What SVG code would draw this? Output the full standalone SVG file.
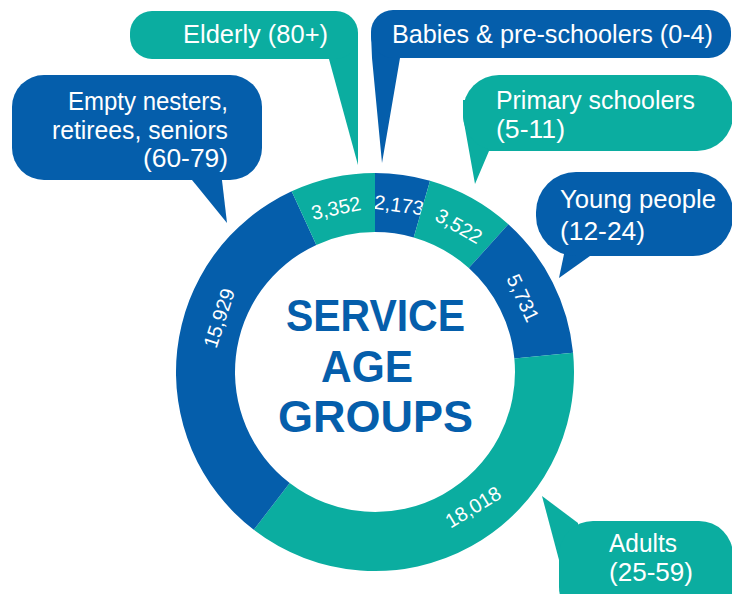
<svg xmlns="http://www.w3.org/2000/svg" width="732" height="594" viewBox="0 0 732 594">
<style>
.blue{fill:#055EAB}
.teal{fill:#0BADA0}
.lbl{font-family:"Liberation Sans",Arial,sans-serif;font-size:26px;fill:#ffffff}
.val{font-family:"Liberation Sans",Arial,sans-serif;font-size:20px;fill:#ffffff;text-anchor:middle}
.title{font-family:"Liberation Sans",Arial,sans-serif;font-size:44px;font-weight:bold;fill:#055EAB;text-anchor:middle}
</style>
<rect width="732" height="594" fill="#ffffff"/>
<g id="donut">
  <g id="seg-babies">
    <path class="blue" d="M375,173 A199,199 0 0 1 430.04,180.76 L413.72,237.46 A140,140 0 0 0 375,232 Z"/>
    <text class="val" transform="translate(399,205) rotate(8)" y="7">2,173</text>
  </g>
  <g id="seg-primary">
    <path class="teal" d="M430.04,180.76 A199,199 0 0 1 508.35,224.28 L468.81,268.08 A140,140 0 0 0 413.72,237.46 Z"/>
    <text class="val" transform="translate(459,226) rotate(30)" y="7">3,522</text>
  </g>
  <g id="seg-young">
    <path class="blue" d="M508.35,224.28 A199,199 0 0 1 573.06,352.65 L514.34,358.39 A140,140 0 0 0 468.81,268.08 Z"/>
    <text class="val" transform="translate(523,298) rotate(65)" y="7">5,731</text>
  </g>
  <g id="seg-adults">
    <path class="teal" d="M573.06,352.65 A199,199 0 0 1 253.75,529.81 L289.70,483.02 A140,140 0 0 0 514.34,358.39 Z"/>
    <text class="val" transform="translate(473,507) rotate(-31)" y="7">18,018</text>
  </g>
  <g id="seg-empty">
    <path class="blue" d="M253.75,529.81 A199,199 0 0 1 291.64,191.31 L316.35,244.88 A140,140 0 0 0 289.70,483.02 Z"/>
    <text class="val" transform="translate(219,318) rotate(-72)" y="7">15,929</text>
  </g>
  <g id="seg-elderly">
    <path class="teal" d="M291.64,191.31 A199,199 0 0 1 375,173 L375,232 A140,140 0 0 0 316.35,244.88 Z"/>
    <text class="val" transform="translate(336,208) rotate(-12)" y="7">3,352</text>
  </g>
</g>
<g id="center-title">
  <text class="title" x="375.5" y="331" textLength="179" lengthAdjust="spacingAndGlyphs">SERVICE</text>
  <text class="title" x="367" y="382" textLength="92" lengthAdjust="spacingAndGlyphs">AGE</text>
  <text class="title" x="375.5" y="432" textLength="195" lengthAdjust="spacingAndGlyphs">GROUPS</text>
</g>
<g id="connectors">
  <polygon class="teal" points="322.4,35 358,35 358,165"/>
  <polygon class="blue" points="183.9,170 220.8,170 227,223"/>
  <polygon class="blue" points="371,34 405,34 400,58 382,163 372,58"/>
  <polygon class="teal" points="463,100 500,100 500,151 489,151 475,184 463,117"/>
  <polygon class="blue" points="567,240 590,240 590,256 559,278"/>
  <polygon class="teal" points="542,496 578,523 580,560 559,560"/>
</g>
<g id="bubble-elderly">
  <rect class="teal" x="130" y="11" width="228" height="48" rx="22"/>
  <text class="lbl" x="328" y="43" text-anchor="end" textLength="145" lengthAdjust="spacingAndGlyphs">Elderly (80+)</text>
</g>
<g id="bubble-empty">
  <rect class="blue" x="12" y="75" width="250" height="105" rx="32"/>
  <text class="lbl" x="228" y="110" text-anchor="end" textLength="160" lengthAdjust="spacingAndGlyphs">Empty nesters,</text>
  <text class="lbl" x="228" y="138.5" text-anchor="end" textLength="176" lengthAdjust="spacingAndGlyphs">retirees, seniors</text>
  <text class="lbl" x="228" y="167" text-anchor="end" textLength="85" lengthAdjust="spacingAndGlyphs">(60-79)</text>
</g>
<g id="bubble-babies">
  <rect class="blue" x="371" y="10" width="360" height="48" rx="22"/>
  <text class="lbl" x="392" y="43" textLength="321" lengthAdjust="spacingAndGlyphs">Babies &amp; pre-schoolers (0-4)</text>
</g>
<g id="bubble-primary">
  <rect class="teal" x="463" y="75" width="270" height="76" rx="36"/>
  <text class="lbl" x="496" y="109" textLength="199" lengthAdjust="spacingAndGlyphs">Primary schoolers</text>
  <text class="lbl" x="496" y="138" textLength="69" lengthAdjust="spacingAndGlyphs">(5-11)</text>
</g>
<g id="bubble-young">
  <rect class="blue" x="536" y="172" width="197" height="84" rx="40"/>
  <text class="lbl" x="560" y="208" textLength="156" lengthAdjust="spacingAndGlyphs">Young people</text>
  <text class="lbl" x="560" y="240" textLength="85" lengthAdjust="spacingAndGlyphs">(12-24)</text>
</g>
<g id="bubble-adults">
  <rect class="teal" x="559" y="521" width="174" height="100" rx="34"/>
  <text class="lbl" x="609" y="552" textLength="68" lengthAdjust="spacingAndGlyphs">Adults</text>
  <text class="lbl" x="609" y="581" textLength="84" lengthAdjust="spacingAndGlyphs">(25-59)</text>
</g>
</svg>
